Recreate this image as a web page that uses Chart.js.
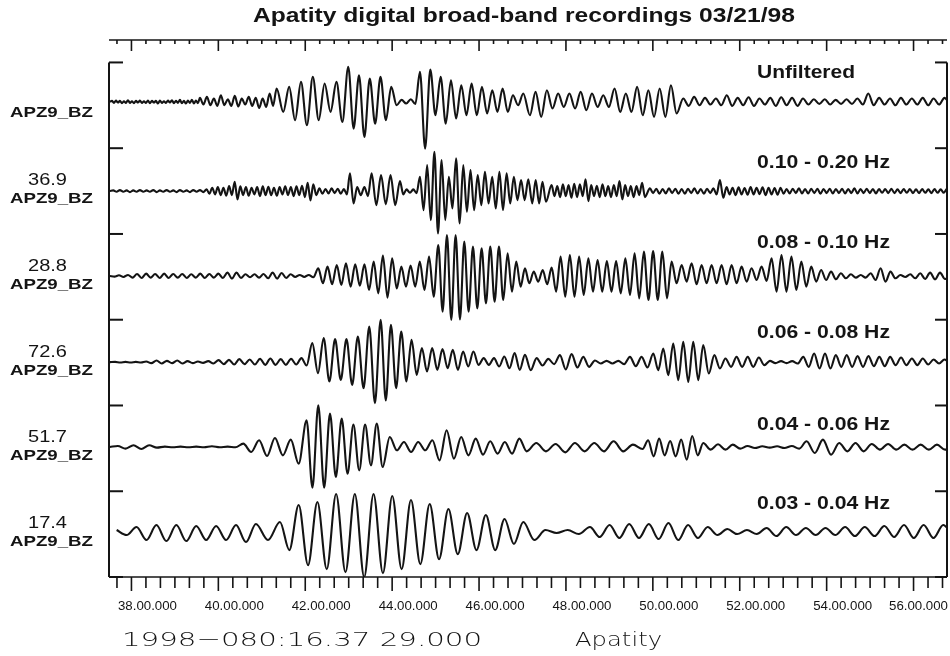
<!DOCTYPE html>
<html lang="en">
<head>
<meta charset="UTF-8">
<title>Apatity digital broad-band recordings 03/21/98</title>
<script src="https://cdn.jsdelivr.net/npm/chart.js"></script>
<style>
  html, body { margin: 0; padding: 0; background: #fff; }
  #wrap { position: relative; width: 950px; height: 656px; }
</style>
</head>
<body>
<div id="wrap"><canvas id="seis" width="950" height="656"></canvas></div>
<script>
// station / filter labels
const stationNames = ['APZ9_BZ', 'APZ9_BZ', 'APZ9_BZ', 'APZ9_BZ', 'APZ9_BZ', 'APZ9_BZ'];
const traceScales = ['', '36.9', '28.8', '72.6', '51.7', '17.4'];
const bandLabels = ['Unfiltered', '0.10 - 0.20 Hz', '0.08 - 0.10 Hz', '0.06 - 0.08 Hz', '0.04 - 0.06 Hz', '0.03 - 0.04 Hz'];

// time axis (minutes after 16:00)
const startTime = 37 + 29 / 60;      // 1998-080 16:37:29
const endTime = 56.77;
const majorTicks = [38, 40, 42, 44, 46, 48, 50, 52, 54, 56];
const tickLabels = ['38.00.000', '40.00.000', '42.00.000', '44.00.000', '46.00.000',
                    '48.00.000', '50.00.000', '52.00.000', '54.00.000', '56.00.000'];

// peak / trough amplitudes (counts), in order
const unfiltered = [0,3,-3,4,-2,3,-4,2,-3,5,-3,2,-4,3,-2,4,-3,2,-3,4,-4,3,-2,3,-5,4,-3,2,-3,4,-2,5,-4,3,-3,6,-4,3,-5,4,-3,6,-5,4,-4,
  12,-8,15,-10,10,-12,20,-10,8,-12,18,-14,10,-8,15,-12,12,-18,10,-15,25,-12,40,
  -30,45,-55,60,-70,75,-55,55,-30,60,-60,105,-80,80,-105,70,-65,75,-55,45,-10,
  6,-5,8,-6,
  90,-140,97,-40,75,-65,65,-50,50,-40,55,-40,45,-35,35,-30,40,-30,20,-10,25,
  -40,30,-45,35,-20,25,-15,25,-20,30,-25,25,-15,20,-15,40,-30,25,-30,45,-40,35,-45,40,-45,50,-35,
  10,-12,15,-10,12,-8,10,-10,20,-12,12,-10,14,-12,10,-8,12,-12,14,-10,12,-12,10,-8,8,-6,8,-8,6,-6,
  8,-6,10,-8,25,-10,12,-8,10,-10,12,-8,10,-8,12,-10,10,-8,12,-6];
// [index, minute] where a peak of the list sits on the time axis
const unfilteredAt = [[0,37.505],[45,39.576],[67,41.341],[68,41.494],[79,42.990],[88,44.103],[89,44.218],
  [93,44.640],[113,47.018],[114,47.171],[140,50.547],[141,50.700],[190,56.837]];

const band010_020 = [0,2,-2,3,-2,2,-3,2,-2,3,-2,2,-2,3,-3,2,-2,3,-2,2,-3,3,-2,2,-3,3,-2,3,-3,
  5,-8,10,-10,12,-12,10,-14,15,-12,28,-25,14,-12,12,-14,10,-10,12,-15,14,-12,13,-12,10,-14,12,-10,14,-12,12,-15,14,-12,16,-18,25,-28,
  20,-12,8,-8,6,-7,8,-6,7,-8,6,-10,
  53,-37,12,-12,12,-15,53,-42,48,-40,48,-42,30,
  -10,5,-5,5,-6,
  43,-57,78,-87,118,-127,93,-87,43,-52,98,-97,78,-62,63,-57,48,-42,58,-37,43,-52,58,-57,53,-37,43,-27,33,-27,35,
  -37,33,-37,28,-32,
  18,-15,15,-18,20,-15,18,-20,22,-18,20,-15,35,-30,18,-15,16,-18,20,-15,15,-18,18,-15,30,-25,18,-15,15,-18,15,-12,25,-18,
  8,-6,7,-8,6,-7,8,-6,7,-8,6,-8,7,-6,8,-7,6,-8,7,-6,8,-10,
  33,-20,
  12,-10,10,-12,11,-10,9,-11,12,-10,10,-9,11,-12,10,-10,9,-11,10,-8,
  6,-7,7,-6,8,-7,6,-7,7,-6,7,-8,6,-6,7,-7,6,-6,7,-7,6,-6,8,-7,6,-6,7,-6,6,-7,
  6,-5,6,-6,7,-6,5,-6,6,-5,6,-6,5,-6,6,-5,5,-6,6,-5,5,-5,6,-5];
const band010_020At = [[0,37.505],[29,39.730],[67,42.185],[79,43.029],[85,43.527],[91,44.180],[92,44.256],
  [97,44.640],[127,47.133],[128,47.225],[132,47.539],[133,47.670],[166,49.818],[167,49.933],[188,51.467],
  [189,51.544],[191,51.697],[211,53.078],[264,56.837]];

const band008_010 = [0,-2,2,-3,3,-5,6,-6,7,-5,6,-6,7,-6,6,-5,6,-6,5,-5,7,-6,6,-5,7,-6,10,-8,10,-6,5,-4,5,-5,6,-7,10,-8,9,-6,5,-3,3,-3,3,-4,
  23,-22,28,-25,33,-27,38,-32,35,-29,35,-42,43,-52,61,-65,53,-37,28,-32,31,-32,43,-42,58,-62,93,-107,123,-132,
  123,-130,103,-107,88,-97,83,-82,88,-77,88,-72,68,-47,43,-32,23,-22,
  13,-17,18,-25,25,-47,58,-62,63,-62,58,-57,53,-47,48,-47,45,-47,45,-52,53,-57,68,-67,73,-72,75,-72,73,-67,
  43,-22,33,-17,38,-25,33,-22,33,-22,33,-25,33,-22,28,-17,23,-12,28,-15,53,-47,63,-47,58,-42,43,-32,28,-17,
  18,-12,13,-10,8,-7,5,-5,3,-5,8,-12,23,-17,13,-7,3,-3,5,-7,8,-9,10,-10,10,-9,3];
const band008_010At = [[0,37.505],[45,42.185],[46,42.300],[72,45.062],[93,47.156],[100,47.877],[124,50.432],[144,52.733],[180,56.837]];

const band006_008 = [0,1,-1,1,-1,1,-1,2,-3,5,-4,4,-3,5,-4,3,-3,2,-2,3,-4,6,-6,7,-7,9,-6,8,-7,10,-8,11,-8,9,-8,10,-7,12,-10,
  57,-33,72,-58,69,-53,69,-68,77,-78,107,-123,127,-115,112,-78,92,-58,67,-38,42,-28,42,-23,39,-18,37,-23,32,-13,
  32,-8,12,-8,12,-13,17,-18,27,-23,22,
  -24,12,-10,10,-6,21,-22,24,-16,16,-14,5,-4,4,-4,4,-6,16,-12,16,-16,26,-24,41,-39,56,-54,61,-59,61,
  -54,51,-34,21,-19,11,-14,16,-14,16,-14,14,-9,4,-3,3,-3,3,-4,16,-14,26,-19,26,-19,21,-14,21,-14,18,
  -14,18,-12,16,-12,16,-9,14,-9,11,-9,11,-7,8,-4,8,-4];
const band006_008At = [[0,37.505],[38,42.031],[51,43.735],[79,47.056],[101,50.010],[111,51.160],[129,53.462],[156,56.837]];

const band004_006 = [0,3,-5,5,-6,5,-2,1,-1,1,-1,1,-1,2,-1,1,-1,
  10,-15,20,-27,27,-25,22,-50,80,-122,125,-122,100,-90,85,-80,67,-70,67,-55,70,-60,30,-10,15,-15,15,-10,20,-40,
  50,-35,30,-25,25,-23,17,-20,15,-20,25,-13,
  12,-13,9,-16,12,-13,12,-13,17,-13,7,-6,20,-28,25,-25,18,-28,22,-38,33,-25,12,-8,8,-8,7,-5,3,-3,
  2,-2,2,-3,3,-5,17,-18,22,-23,12,-13,12,-13,9,-8,9,-8,7,-8,7,-8,7,-8,0];
const band004_006At = [[0,37.505],[17,40.574],[25,42.031],[38,43.781],[47,45.254],[58,47.095],[70,49.764],[81,51.160],[95,53.539],[113,56.914]];

const band003_004 = [6,-9,15,-24,21,-27,21,-27,18,-24,18,-24,21,-30,24,-24,30,-54,81,-99,
  90,-111,114,-120,114,-135,114,-123,108,-111,96,-96,84,-81,69,-66,57,-54,51,-54,
  39,-36,30,-24,6,-3,6,-6,15,-15,21,-18,24,-18,24,-21,27,-24,21,-18,
  15,-9,9,-6,6,-6,12,-12,15,-9,12,-9,12,-9,15,-12,15,-12,18,-15,21,-18,21,-18,21,-15];
const band003_004At = [[0,37.659],[14,40.865],[16,41.418],[42,47.018],[48,48.552],[84,56.684],[85,56.914]];

const traces = [
  [unfiltered, unfilteredAt],
  [band010_020, band010_020At],
  [band008_010, band008_010At],
  [band006_008, band006_008At],
  [band004_006, band004_006At],
  [band003_004, band003_004At]
];

// display layout: trace k sits in band k (top to bottom), y axis counts bands from the bottom
const traceOffsets = [5.54, 4.50, 3.51, 2.505, 1.516, 0.524];
const countsPerBand = 257;
const ink = '#141414';
const sans = '"Liberation Sans", Arial, Helvetica, sans-serif';

function timesFor(n, anchors) {
  const t = [];
  for (let i = 0; i < n; i++) {
    let k = 0;
    while (k < anchors.length - 2 && i > anchors[k + 1][0]) k++;
    const [i0, t0] = anchors[k], [i1, t1] = anchors[k + 1];
    t.push(t0 + (i - i0) * (t1 - t0) / (i1 - i0));
  }
  return t;
}

const datasets = traces.map((tr, k) => {
  const amps = tr[0];
  const times = timesFor(amps.length, tr[1]);
  return {
    label: bandLabels[k],
    data: amps.map((v, i) => ({ x: times[i], y: traceOffsets[k] + v / countsPerBand })),
    borderColor: ink,
    borderWidth: 2.1,
    pointRadius: 0,
    cubicInterpolationMode: 'monotone',
    fill: false
  };
});

function fitText(ctx, str, x, y, font, width, align) {
  ctx.save();
  ctx.font = font;
  const sx = width / ctx.measureText(str).width;
  ctx.translate(x, y);
  ctx.scale(sx, 1);
  ctx.textAlign = align || 'left';
  ctx.textBaseline = 'alphabetic';
  ctx.fillText(str, 0, 0);
  ctx.restore();
}

function seg(ctx, x1, y1, x2, y2) {
  ctx.beginPath();
  ctx.moveTo(x1, y1);
  ctx.lineTo(x2, y2);
  ctx.stroke();
}

const framePlugin = {
  id: 'frame',
  afterDraw(chart) {
    const ctx = chart.ctx, xs = chart.scales.x, ys = chart.scales.y, a = chart.chartArea;
    ctx.save();
    ctx.strokeStyle = ink;
    ctx.fillStyle = ink;
    ctx.lineWidth = 2;

    // side rails with a short bracket at each band edge
    const yTop = ys.getPixelForValue(6), yBot = ys.getPixelForValue(0);
    seg(ctx, a.left, yTop, a.left, yBot);
    seg(ctx, a.right, yTop, a.right, yBot);
    for (let b = 0; b <= 6; b++) {
      const y = ys.getPixelForValue(b);
      seg(ctx, a.left, y, a.left + 14, y);
      seg(ctx, a.right - 12, y, a.right, y);
    }

    // time axes, 20 s minor ticks
    const topY = a.top - 1;
    ctx.lineWidth = 1.6;
    seg(ctx, a.left, yBot, a.right, yBot);
    seg(ctx, a.left, topY, a.right, topY);
    for (let s = 37 * 60 + 40; s <= 56 * 60 + 40; s += 20) {
      const x = xs.getPixelForValue(s / 60);
      const major = s % 120 === 0;
      seg(ctx, x, yBot, x, yBot + (major ? 14 : 11));
      seg(ctx, x, topY, x, topY + (major ? 11 : 4));
    }

    // tick labels
    const labelW = 59;
    majorTicks.forEach((m, i) => {
      let cx = xs.getPixelForValue(m) + 16;
      cx = Math.min(cx, a.right + 1 - labelW / 2);
      fitText(ctx, tickLabels[i], cx, 610, '12px ' + sans, labelW, 'center');
    });

    // title
    fitText(ctx, 'Apatity digital broad-band recordings 03/21/98', 524, 22, 'bold 20px ' + sans, 542, 'center');

    // trace labels
    const bandBase = [78, 168, 248, 338, 430, 509];
    bandLabels.forEach((s, k) => {
      const w = s === 'Unfiltered' ? 98 : 133;
      fitText(ctx, s, 757, bandBase[k], 'bold 18px ' + sans, w, 'left');
    });
    for (let k = 0; k < 6; k++) {
      const top = ys.getPixelForValue(6 - k);
      fitText(ctx, stationNames[k], 51.5, top + 55, 'bold 15px ' + sans, 83, 'center');
      if (traceScales[k]) fitText(ctx, traceScales[k], 47.5, top + 37, '17px ' + sans, 39, 'center');
    }

    // footer
    fitText(ctx, '1998\u2212080:16.37 29.000', 122, 646, '200 20px "DejaVu Sans", sans-serif', 360, 'left');
    fitText(ctx, 'Apatity', 575, 646, '200 20px "DejaVu Sans", sans-serif', 87, 'left');
    ctx.restore();
  }
};

new Chart(document.getElementById('seis'), {
  type: 'line',
  data: { datasets: datasets },
  options: {
    responsive: false,
    animation: false,
    devicePixelRatio: 1,
    parsing: false,
    layout: { padding: { left: 109, right: 3, top: 41, bottom: 79 } },
    scales: {
      x: { type: 'linear', min: startTime, max: endTime, display: false },
      y: { type: 'linear', min: 0, max: 6.25, display: false }
    },
    plugins: { legend: { display: false }, tooltip: { enabled: false } }
  },
  plugins: [framePlugin]
});
</script>
</body>
</html>
